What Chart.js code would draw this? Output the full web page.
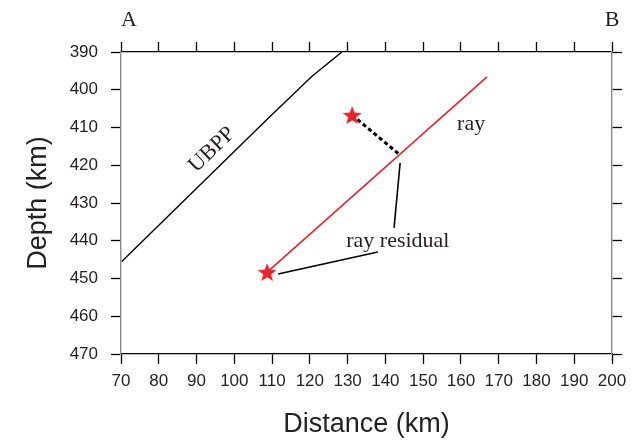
<!DOCTYPE html>
<html lang="en">
<head>
  <meta charset="UTF-8">
  <script src="https://cdn.jsdelivr.net/npm/chart.js"></script>
  <title>Depth section A-B</title>
  <style>
    body { margin: 0; padding: 0; background: #fff; }
    #wrap { width: 639px; height: 443px; }
  </style>
</head>
<body>
<div id="wrap"><canvas id="myChart" width="639" height="443"></canvas></div>
<script>
  // x = distance along profile (km), y = depth (km)
  const distanceTicks = [70, 80, 90, 100, 110, 120, 130, 140, 150, 160, 170, 180, 190, 200];
  const depthTicks = [390, 400, 410, 420, 430, 440, 450, 460, 470];

  const ubppDistance = [70.2, 108.5, 120.5, 128.5];
  const ubppDepth = [445.5, 408.0, 396.5, 390.0];

  const rayDistance = [108.7, 166.9];
  const rayDepth = [448.3, 396.6];

  const residualDistance = [131.2, 143.9];
  const residualDepth = [406.7, 417.3];

  // leader lines from the "ray residual" label
  const leaderUpDistance = [143.9, 142.3];
  const leaderUpDepth = [419.4, 436.6];
  const leaderDownDistance = [138.0, 111.6];
  const leaderDownDepth = [443.0, 448.8];

  const eventDistance = [108.7, 131.2];
  const eventDepth = [448.3, 406.7];

  // text labels, placed in data units
  const labelText = ['UBPP', 'ray', 'ray residual', 'A', 'B'];
  const labelDistance = [94.1, 162.7, 143.3, 72.1, 200.0];
  const labelDepth = [415.9, 409.1, 440.1, 381.5, 381.5];
  const labelAngle = [-44, 0, 0, 0, 0];

  const pts = (xs, ys) => xs.map((x, i) => ({ x: x, y: ys[i] }));

  function makeStar(size, color) {
    const c = document.createElement('canvas');
    c.width = size;
    c.height = size;
    const g = c.getContext('2d');
    const R = size / 2, r = R * 0.42;
    const cy = R + R * 0.1;
    g.beginPath();
    for (let i = 0; i < 10; i++) {
      const a = -Math.PI / 2 + i * Math.PI / 5;
      const rad = i % 2 ? r : R;
      g.lineTo(R + rad * Math.cos(a), cy + rad * Math.sin(a));
    }
    g.closePath();
    g.fillStyle = color;
    g.fill();
    return c;
  }
  const star = makeStar(20, '#e8232b');

  const textPlugin = {
    id: 'textLabels',
    afterDraw(chart) {
      const ctx = chart.ctx;
      const xs = chart.scales.x, ys = chart.scales.y;
      ctx.save();
      ctx.fillStyle = '#231f20';
      ctx.textAlign = 'center';
      ctx.textBaseline = 'middle';
      labelText.forEach((t, i) => {
        ctx.save();
        ctx.translate(xs.getPixelForValue(labelDistance[i]), ys.getPixelForValue(labelDepth[i]));
        ctx.rotate(labelAngle[i] * Math.PI / 180);
        ctx.font = '22px "Liberation Serif", "DejaVu Serif", serif';
        ctx.fillText(t, 0, 0);
        ctx.restore();
      });
      ctx.restore();
    }
  };

  const tickFont = { family: '"Liberation Sans", Arial, sans-serif', size: 17 };
  const titleFont = { family: '"Liberation Sans", Arial, sans-serif', size: 27 };

  const lineSet = (label, xs, ys, color, width, order, dash) => ({
    label: label,
    data: pts(xs, ys),
    showLine: true,
    borderColor: color,
    borderWidth: width,
    borderDash: dash || [],
    pointRadius: 0,
    order: order
  });

  const ctx = document.getElementById('myChart').getContext('2d');
  new Chart(ctx, {
    type: 'scatter',
    data: {
      datasets: [
        {
          label: 'events',
          data: pts(eventDistance, eventDepth),
          pointStyle: star,
          pointRadius: 10,
          showLine: false,
          order: 0
        },
        lineSet('residual', residualDistance, residualDepth, '#000', 3, 1, [4, 3]),
        lineSet('ray', rayDistance, rayDepth, '#e8232b', 1.6, 2),
        lineSet('UBPP', ubppDistance, ubppDepth, '#000', 1.4, 3),
        lineSet('leader1', leaderUpDistance, leaderUpDepth, '#000', 1.6, 4),
        lineSet('leader2', leaderDownDistance, leaderDownDepth, '#000', 1.6, 5)
      ]
    },
    options: {
      responsive: false,
      animation: false,
      layout: { padding: { left: 0, right: 17, top: 0, bottom: 0 } },
      plugins: { legend: { display: false }, tooltip: { enabled: false } },
      scales: {
        x: {
          type: 'linear',
          position: 'bottom',
          min: 70,
          max: 200,
          afterBuildTicks: (s) => { s.ticks = distanceTicks.map(v => ({ value: v })); },
          afterFit: (s) => { s.height = 89; },
          grid: { drawOnChartArea: false, tickLength: 10, color: '#000', tickWidth: 1.3 },
          border: { display: true, color: '#000', width: 1.2 },
          ticks: { autoSkip: false, maxRotation: 0, padding: 7, color: '#231f20', font: tickFont },
          title: { display: true, text: 'Distance (km)', color: '#231f20', font: titleFont, padding: { top: 0, bottom: 2 } }
        },
        x2: {
          type: 'linear',
          position: 'top',
          min: 70,
          max: 200,
          afterBuildTicks: (s) => { s.ticks = distanceTicks.map(v => ({ value: v })); },
          afterFit: (s) => { s.height = 52; },
          grid: { drawOnChartArea: false, tickLength: 10, color: '#000', tickWidth: 1.3 },
          border: { display: true, color: '#000', width: 1.2 },
          ticks: { display: false }
        },
        y: {
          type: 'linear',
          position: 'left',
          reverse: true,
          min: 390,
          max: 470,
          afterBuildTicks: (s) => { s.ticks = depthTicks.map(v => ({ value: v })); },
          afterFit: (s) => { s.width = 121; },
          grid: { drawOnChartArea: false, tickLength: 10, color: '#000', tickWidth: 1.3 },
          border: { display: true, color: '#8a8a8a', width: 1.4 },
          ticks: { padding: 13, color: '#231f20', font: tickFont },
          title: { display: true, text: 'Depth (km)', color: '#231f20', font: titleFont, padding: { top: 22, bottom: 0 } }
        },
        y2: {
          type: 'linear',
          position: 'right',
          reverse: true,
          min: 390,
          max: 470,
          afterBuildTicks: (s) => { s.ticks = depthTicks.map(v => ({ value: v })); },
          afterFit: (s) => { s.width = 10; },
          grid: { drawOnChartArea: false, tickLength: 10, color: '#000', tickWidth: 1.3 },
          border: { display: true, color: '#8a8a8a', width: 1.4 },
          ticks: { display: false }
        }
      }
    },
    plugins: [textPlugin]
  });
</script>
</body>
</html>
